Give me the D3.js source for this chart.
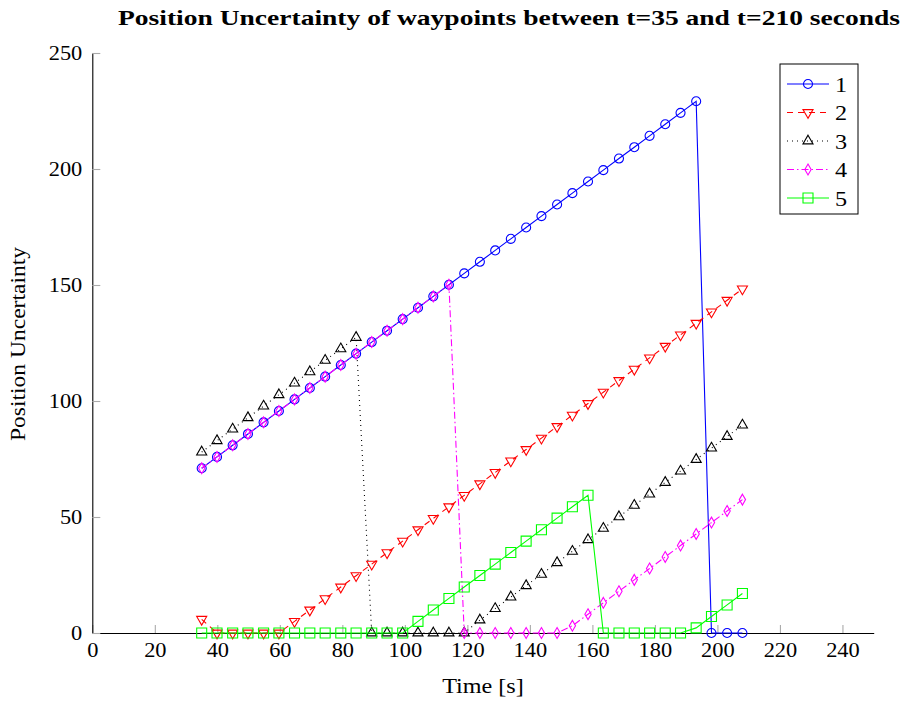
<!DOCTYPE html>
<html>
<head>
<meta charset="utf-8">
<script src="https://cdn.jsdelivr.net/npm/d3@7"></script>
<style>
  html, body { margin: 0; padding: 0; background: #fff; }
  svg { display: block; }
  text { font-family: "Liberation Serif", "Times New Roman", serif; fill: #000; }
</style>
</head>
<body>
<svg id="chart" width="903" height="701"></svg>
<script>
// Sample times [s]
const times = [35.0, 39.9, 44.9, 49.8, 54.8, 59.7, 64.7, 69.6, 74.5, 79.5, 84.4, 89.4,
  94.3, 99.3, 104.2, 109.1, 114.1, 119.0, 124.0, 128.9, 133.9, 138.8, 143.7, 148.7,
  153.6, 158.6, 163.5, 168.5, 173.4, 178.3, 183.3, 188.2, 193.2, 198.1, 203.1, 208.0];

// Position uncertainty per waypoint
const wp1 = [71.0, 75.9, 80.9, 85.8, 90.8, 95.7, 100.7, 105.6, 110.5, 115.5, 120.4, 125.4,
  130.3, 135.3, 140.2, 145.1, 150.1, 155.0, 160.0, 164.9, 169.9, 174.8, 179.7, 184.7,
  189.6, 194.6, 199.5, 204.5, 209.4, 214.3, 219.3, 224.2, 229.2, 0, 0, 0];
const wp2 = [5.9, 0, 0, 0, 0, 0, 5.0, 9.9, 14.8, 19.8, 24.7, 29.7,
  34.6, 39.6, 44.5, 49.4, 54.4, 59.3, 64.3, 69.2, 74.2, 79.1, 84.0, 89.0,
  93.9, 98.9, 103.8, 108.8, 113.7, 118.6, 123.6, 128.5, 133.5, 138.4, 143.4, 148.3];
const wp3 = [78.0, 82.9, 87.9, 92.8, 97.8, 102.7, 107.7, 112.6, 117.5, 122.5, 127.4, 0,
  0, 0, 0, 0, 0, 0, 5.6, 10.5, 15.5, 20.4, 25.3, 30.3,
  35.2, 40.2, 45.1, 50.1, 55.0, 59.9, 64.9, 69.8, 74.8, 79.7, 84.7, 89.6];
const wp4 = [71.0, 75.9, 80.9, 85.8, 90.8, 95.7, 100.7, 105.6, 110.5, 115.5, 120.4, 125.4,
  130.3, 135.3, 140.2, 145.1, 150.1, 0, 0, 0, 0, 0, 0, 0,
  3.1, 8.1, 13.0, 18.0, 22.9, 27.8, 32.8, 37.7, 42.7, 47.6, 52.6, 57.5];
const wp5 = [0, 0, 0, 0, 0, 0, 0, 0, 0, 0, 0, 0,
  0, 0, 5.0, 9.9, 14.9, 19.8, 24.8, 29.7, 34.7, 39.6, 44.5, 49.5,
  54.4, 59.4, 0, 0, 0, 0, 0, 0, 2.2, 7.1, 12.1, 17.0];

const seriesNames = ["1", "2", "3", "4", "5"];
const xTicks = [0, 20, 40, 60, 80, 100, 120, 140, 160, 180, 200, 220, 240];
const yTicks = [0, 50, 100, 150, 200, 250];

const titleText = "Position Uncertainty of waypoints between t=35 and t=210 seconds";
const xLabel = "Time [s]";
const yLabel = "Position Uncertainty";

const styles = [
  { color: "#0000ff", dash: null,        mark: "circle" },
  { color: "#ff0000", dash: "6,5",       mark: "down" },
  { color: "#000000", dash: "1,4",       mark: "up" },
  { color: "#ff00ff", dash: "7,3,1.5,3", mark: "diamond" },
  { color: "#00ff00", dash: null,        mark: "square" }
];
const values = [wp1, wp2, wp3, wp4, wp5];

const svg = d3.select("#chart");
const x = d3.scaleLinear().domain([0, 250]).range([92.3, 873.7]);
const y = d3.scaleLinear().domain([0, 250]).range([633, 53]);

// horizontal widening of serif glyphs
function widen(sel, k) {
  sel.each(function () {
    const len = this.getComputedTextLength();
    d3.select(this).attr("textLength", len * k).attr("lengthAdjust", "spacingAndGlyphs");
  });
}

// axes
const gx = svg.append("g").attr("transform", `translate(0,${y(0)})`)
  .call(d3.axisBottom(x).tickValues(xTicks).tickSizeInner(-8).tickSizeOuter(0).tickPadding(18));
const gy = svg.append("g").attr("transform", `translate(${x(0)},0)`)
  .call(d3.axisLeft(y).tickValues(yTicks).tickSizeInner(-8).tickSizeOuter(0).tickPadding(10));
[gx, gy].forEach(g => {
  g.attr("font-family", null).attr("font-size", null);
  g.select(".domain").attr("stroke", "#000").attr("stroke-width", 1.1);
  g.selectAll(".tick line").attr("stroke", "#aaaaaa").attr("stroke-width", 1.1);
  g.selectAll(".tick text").style("font-size", "20px").attr("fill", "#000");
});
gx.selectAll(".tick text").attr("dy", "0.3em").call(widen, 1.12);
gy.selectAll(".tick text").attr("dy", "0.34em").call(widen, 1.12);

// mark shapes
function markPath(kind) {
  switch (kind) {
    case "circle": return d3.symbol(d3.symbolCircle, 64)();
    case "square": return d3.symbol(d3.symbolSquare, 100)();
    case "up": return d3.symbol(d3.symbolTriangle, 44)();
    case "down": return d3.symbol(d3.symbolTriangle, 44)();
    case "diamond": return d3.symbol(d3.symbolDiamond, 34)();
  }
}
function markTransform(kind, px, py) {
  return kind === "down" ? `translate(${px},${py}) rotate(180)` : `translate(${px},${py})`;
}

// series
const line = d3.line().x(d => x(d[0])).y(d => y(d[1]));
values.forEach((vals, i) => {
  const st = styles[i];
  const pts = times.map((t, j) => [t, vals[j]]);
  const g = svg.append("g");
  g.append("path").attr("d", line(pts)).attr("fill", "none")
    .attr("stroke", st.color).attr("stroke-width", 1.1)
    .attr("stroke-dasharray", st.dash);
  g.selectAll("path.mark").data(pts).enter().append("path").attr("class", "mark")
    .attr("d", markPath(st.mark))
    .attr("transform", d => markTransform(st.mark, x(d[0]), y(d[1])))
    .attr("fill", "none").attr("stroke", st.color).attr("stroke-width", 1.1);
});

// legend
const lg = svg.append("g");
lg.append("rect").attr("x", 780).attr("y", 64).attr("width", 78).attr("height", 150)
  .attr("fill", "#fff").attr("stroke", "#000").attr("stroke-width", 1);
seriesNames.forEach((name, i) => {
  const st = styles[i];
  const cy = 84 + i * 28.5;
  lg.append("line").attr("x1", 787).attr("x2", 829).attr("y1", cy).attr("y2", cy)
    .attr("stroke", st.color).attr("stroke-width", 1.1).attr("stroke-dasharray", st.dash);
  lg.append("path").attr("d", markPath(st.mark)).attr("transform", markTransform(st.mark, 808, cy))
    .attr("fill", "none").attr("stroke", st.color).attr("stroke-width", 1.1);
  lg.append("text").attr("x", 835).attr("y", cy).attr("dy", "0.35em")
    .style("font-size", "22px").text(name).call(widen, 1.1);
});

// title and axis labels
svg.append("text").attr("x", 509).attr("y", 25).attr("text-anchor", "middle")
  .style("font-size", "22px").style("font-weight", "bold")
  .attr("textLength", 782).attr("lengthAdjust", "spacingAndGlyphs").text(titleText);
svg.append("text").attr("x", 483).attr("y", 693).attr("text-anchor", "middle")
  .style("font-size", "21px").text(xLabel).call(widen, 1.15);
svg.append("text").attr("transform", "translate(25,344) rotate(-90)").attr("text-anchor", "middle")
  .style("font-size", "21px").text(yLabel).call(widen, 1.12);
</script>
</body>
</html>
